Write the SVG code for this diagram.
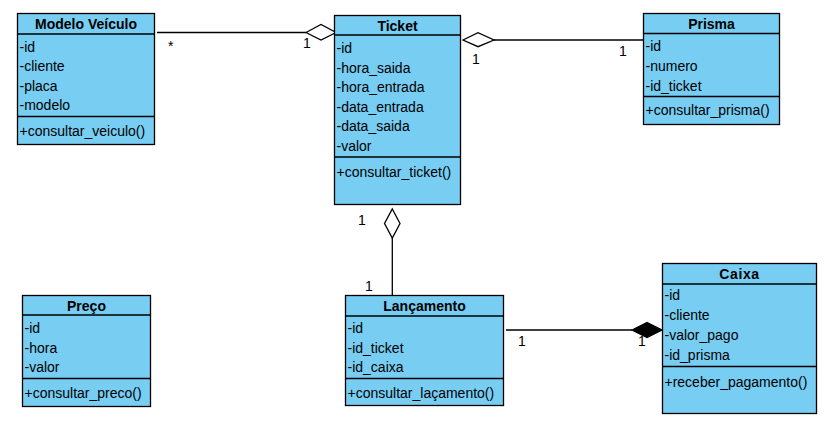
<svg xmlns="http://www.w3.org/2000/svg" width="826" height="428" viewBox="0 0 826 428">
<style>
.box{fill:#78cdf3;stroke:#000;stroke-width:1.3}
.div{stroke:#000;stroke-width:1.3}
.t{font-family:"Liberation Sans",Arial,sans-serif;font-size:14px;fill:#000}
.h{font-family:"Liberation Sans",Arial,sans-serif;font-size:14px;font-weight:bold;fill:#000;text-anchor:middle}
.ln{stroke:#000;stroke-width:1.3;fill:none}
.od{fill:#fff;stroke:#000;stroke-width:1.3}
.fd{fill:#000;stroke:#000;stroke-width:1.3}
</style>
<rect width="826" height="428" fill="#fff"/>
<g id="connectors">
<line class="ln" x1="157" y1="32.5" x2="306" y2="32.5"/>
<polygon class="od" points="306,32.5 321,24.5 336,32.5 321,40"/>
<text class="t" x="168" y="51">*</text>
<text class="t" x="303" y="48">1</text>
<line class="ln" x1="494" y1="40" x2="644" y2="40"/>
<polygon class="od" points="463,40 478,32.7 494,40 478,46.7"/>
<text class="t" x="472" y="64">1</text>
<text class="t" x="619" y="56">1</text>
<line class="ln" x1="392.3" y1="238" x2="392.3" y2="296"/>
<polygon class="od" points="392.3,209 400,223.5 392.3,238 384.5,223.5"/>
<text class="t" x="358" y="225">1</text>
<text class="t" x="365" y="291">1</text>
<line class="ln" x1="506" y1="330" x2="632" y2="330"/>
<polygon class="fd" points="632,330 647,322.5 662,330 647,337.5"/>
<text class="t" x="518" y="346">1</text>
<text class="t" x="638" y="346">1</text>
</g>
<g id="modelo-veiculo">
<rect class="box" x="17.5" y="13.5" width="137" height="131"/>
<line class="div" x1="17.5" y1="34" x2="154.5" y2="34"/>
<line class="div" x1="17.5" y1="116.5" x2="154.5" y2="116.5"/>
<text class="h" x="86" y="29">Modelo Veículo</text>
<text class="t" x="19.5" y="51.5">-id</text>
<text class="t" x="19.5" y="71">-cliente</text>
<text class="t" x="19.5" y="90.5">-placa</text>
<text class="t" x="19.5" y="110">-modelo</text>
<text class="t" x="19.5" y="136">+consultar_veiculo()</text>
</g>
<g id="ticket">
<rect class="box" x="334.5" y="15.5" width="126" height="189"/>
<line class="div" x1="334.5" y1="35" x2="460.5" y2="35"/>
<line class="div" x1="334.5" y1="157" x2="460.5" y2="157"/>
<text class="h" x="397.5" y="30.5">Ticket</text>
<text class="t" x="336.5" y="53">-id</text>
<text class="t" x="336.5" y="72.5">-hora_saida</text>
<text class="t" x="336.5" y="92">-hora_entrada</text>
<text class="t" x="336.5" y="111.5">-data_entrada</text>
<text class="t" x="336.5" y="131">-data_saida</text>
<text class="t" x="336.5" y="150.5">-valor</text>
<text class="t" x="336.5" y="176.5">+consultar_ticket()</text>
</g>
<g id="prisma">
<rect class="box" x="643.5" y="13.5" width="136" height="111"/>
<line class="div" x1="643.5" y1="33.5" x2="779.5" y2="33.5"/>
<line class="div" x1="643.5" y1="96.5" x2="779.5" y2="96.5"/>
<text class="h" x="711.5" y="28.5">Prisma</text>
<text class="t" x="645.5" y="51">-id</text>
<text class="t" x="645.5" y="70.5">-numero</text>
<text class="t" x="645.5" y="90.5">-id_ticket</text>
<text class="t" x="645.5" y="115">+consultar_prisma()</text>
</g>
<g id="lancamento">
<rect class="box" x="345.5" y="295.5" width="158" height="110"/>
<line class="div" x1="345.5" y1="316" x2="503.5" y2="316"/>
<line class="div" x1="345.5" y1="378.5" x2="503.5" y2="378.5"/>
<text class="h" x="424.5" y="311">Lançamento</text>
<text class="t" x="347.5" y="333">-id</text>
<text class="t" x="347.5" y="353">-id_ticket</text>
<text class="t" x="347.5" y="372">-id_caixa</text>
<text class="t" x="347.5" y="397.5">+consultar_laçamento()</text>
</g>
<g id="caixa">
<rect class="box" x="662.5" y="263.5" width="154" height="150"/>
<line class="div" x1="662.5" y1="284" x2="816.5" y2="284"/>
<line class="div" x1="662.5" y1="366.5" x2="816.5" y2="366.5"/>
<text class="h" x="739.5" y="279" letter-spacing="0.6">Caixa</text>
<text class="t" x="664.5" y="300">-id</text>
<text class="t" x="664.5" y="320">-cliente</text>
<text class="t" x="664.5" y="340">-valor_pago</text>
<text class="t" x="664.5" y="360">-id_prisma</text>
<text class="t" x="664.5" y="386.5">+receber_pagamento()</text>
</g>
<g id="preco">
<rect class="box" x="22.5" y="295.5" width="128" height="111"/>
<line class="div" x1="22.5" y1="315" x2="150.5" y2="315"/>
<line class="div" x1="22.5" y1="378.5" x2="150.5" y2="378.5"/>
<text class="h" x="86.5" y="310.5">Preço</text>
<text class="t" x="24.5" y="332.5">-id</text>
<text class="t" x="24.5" y="352.5">-hora</text>
<text class="t" x="24.5" y="372">-valor</text>
<text class="t" x="24.5" y="398">+consultar_preco()</text>
</g>
</svg>
